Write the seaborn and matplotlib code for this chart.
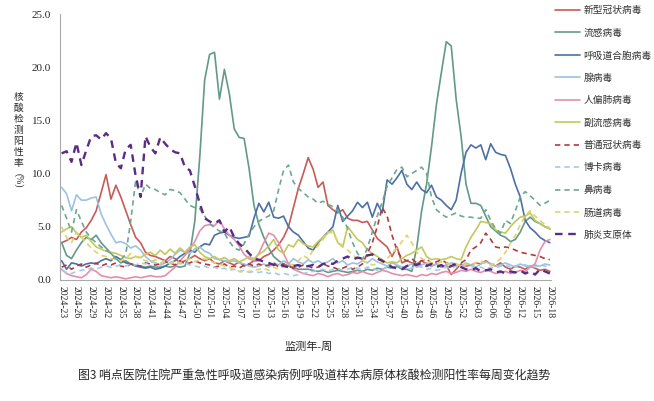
import numpy as np
import pandas as pd
import seaborn as sns
import matplotlib.pyplot as plt

sns.set_style('white')
plt.rcParams['font.family'] = ['Liberation Serif', 'Noto Sans CJK SC']
plt.rcParams['axes.unicode_minus'] = False

# 监测周 (2024-23 ~ 2026-18)
weeks = ([f'2024-{w:02d}' for w in range(23, 53)] +
         [f'2025-{w:02d}' for w in range(1, 53)] +
         [f'2026-{w:02d}' for w in range(1, 19)])

names = ['新型冠状病毒', '流感病毒', '呼吸道合胞病毒', '腺病毒', '人偏肺病毒', '副流感病毒',
         '普通冠状病毒', '博卡病毒', '鼻病毒', '肠道病毒', '肺炎支原体']

covid = [3.5, 3.7, 4.0, 3.8, 4.5, 4.9, 5.6, 6.5, 8.2, 9.9,
         7.6, 8.9, 7.8, 6.5, 5.2, 4.0, 3.5, 2.6, 2.3, 2.2,
         2.0, 1.8, 2.2, 2.0, 1.6, 1.8, 2.0, 2.3, 2.0, 1.8,
         2.0, 1.6, 1.5, 1.8, 1.6, 1.4, 1.7, 1.3, 1.5, 1.8,
         1.8, 2.2, 2.4, 2.8, 3.3, 4.0, 5.0, 6.8, 8.6, 10.0,
         11.5, 10.4, 8.7, 9.2, 7.0, 6.6, 6.3, 6.6, 5.8, 5.6,
         5.6, 5.4, 5.5, 4.7, 3.9, 3.5, 3.1, 2.2, 3.1, 1.6,
         1.8, 1.6, 1.5, 1.8, 1.5, 1.3, 1.5, 1.2, 1.4, 0.5,
         1.0, 1.5, 1.3, 1.4, 1.6, 1.5, 1.8, 1.5, 1.3, 1.6,
         1.2, 1.0, 1.3, 1.2, 1.0, 1.3, 1.1, 0.9, 1.0, 0.8]

flu = [3.5, 2.3, 2.0, 2.8, 3.5, 4.0, 3.8, 4.2, 3.5, 3.0,
       2.5, 2.0, 1.6, 1.8, 1.5, 1.4, 1.3, 1.2, 1.3, 1.2,
       1.2, 1.3, 1.2, 1.3, 1.2, 1.3, 2.5, 5.5, 11.5, 18.8,
       21.2, 21.4, 17.0, 19.8, 17.5, 14.2, 13.4, 13.3, 10.5, 7.0,
       5.2, 4.0, 3.0, 2.2, 1.8, 1.5, 1.3, 1.2, 1.0, 1.0,
       1.0, 0.9, 0.8, 0.9, 0.7, 0.8, 0.9, 0.8, 0.7, 0.8,
       0.9, 0.8, 1.0, 0.9, 1.1, 1.0, 1.2, 1.1, 1.3, 1.0,
       1.0, 0.8, 3.0, 6.5, 9.0, 12.5, 16.5, 19.5, 22.4, 22.0,
       17.0, 13.5, 9.0, 7.2, 7.2, 7.0, 6.0, 5.0, 4.6, 4.2,
       4.0, 3.6, 3.8, 4.5, 5.5, 5.9, 5.5, 5.3, 5.0, 4.8]

rsv = [1.8, 1.0, 1.6, 1.5, 1.3, 1.5, 1.6, 1.5, 1.8, 2.0,
       1.8, 2.2, 1.9, 1.6, 1.5, 1.3, 1.2, 1.1, 1.2, 1.0,
       1.1, 1.3, 1.6, 1.8, 2.2, 2.5, 2.8, 2.6, 3.1, 3.4,
       3.3, 4.2, 4.4, 4.5, 4.2, 4.0, 3.9, 4.0, 4.1, 5.8,
       7.2, 6.4, 7.3, 5.9, 5.8, 6.0, 5.0, 4.5, 4.2, 3.6,
       3.0, 2.8, 3.5, 4.0, 4.5, 5.0, 7.0, 5.5, 6.0, 6.5,
       7.3, 6.8, 7.3, 5.9, 7.2, 6.3, 9.4, 9.0, 9.6, 10.3,
       9.0, 8.5, 9.2, 8.5, 8.2, 8.9, 7.8, 7.5, 7.0, 6.6,
       7.5, 10.0, 12.0, 12.7, 12.4, 12.7, 11.3, 12.8, 12.0, 11.8,
       11.7, 10.5, 9.0, 7.8, 5.6, 4.9, 4.5, 4.0, 3.7, 3.5]

adeno = [8.7, 8.1, 6.5, 8.0, 7.5, 7.5, 7.7, 7.8, 6.2, 5.2,
         4.3, 3.5, 3.6, 3.4, 3.0, 3.2, 2.8, 2.2, 1.8, 1.6,
         1.4, 1.6, 1.9, 2.4, 2.8, 2.6, 2.5, 2.9, 3.1, 2.7,
         2.5, 2.0, 1.9, 1.8, 1.7, 1.8, 1.6, 1.5, 1.3, 1.2,
         1.3, 1.5, 1.2, 1.6, 1.4, 1.8, 1.5, 2.0, 1.7, 1.5,
         1.9, 1.6, 1.8, 1.5, 1.7, 2.0, 1.6, 1.8, 1.4, 1.6,
         1.5, 1.8, 1.6, 2.0, 1.7, 1.5, 1.3, 1.6, 1.4, 1.2,
         1.3, 1.5, 1.2, 1.4, 1.6, 1.3, 1.5, 1.2, 1.4, 1.6,
         1.5, 1.3, 1.6, 1.4, 1.2, 1.5, 1.7, 1.5, 1.3, 1.4,
         1.6, 1.4, 1.2, 1.5, 1.3, 1.2, 1.4, 1.3, 1.5, 1.4]

hmpv = [1.0, 0.6, 0.4, 0.3, 0.2, 0.5, 1.0, 0.8, 0.4, 0.3,
        0.2, 0.3, 0.2, 0.1, 0.2, 0.3, 0.2, 0.3, 0.4, 0.3,
        0.3, 0.4, 0.8, 1.2, 1.8, 2.3, 2.9, 3.6, 4.6, 5.1,
        5.2, 5.1, 5.6, 4.8, 4.2, 3.8, 3.2, 2.4, 2.0, 1.8,
        2.5, 3.5, 4.4, 4.2, 3.5, 2.5, 1.5, 1.0, 0.8, 0.6,
        0.5, 0.4, 0.6, 0.5, 0.3, 0.5, 0.6, 0.4, 0.5, 0.7,
        0.6, 0.8, 0.6, 0.5, 0.7, 0.9, 0.8, 0.6, 0.5, 0.4,
        0.5, 0.4, 0.3, 0.5, 0.4, 0.6, 0.5, 0.7, 0.8, 0.6,
        0.7, 0.9, 0.8, 1.0, 0.8, 0.7, 0.9, 0.8, 0.6, 0.7,
        0.8, 0.6, 0.7, 0.9, 0.8, 1.2, 1.5, 2.8, 3.6, 3.8]

para = [4.5, 4.8, 5.0, 4.4, 4.0, 4.2, 3.6, 3.1, 2.9, 2.7,
        2.6, 2.5, 2.3, 2.1, 2.0, 2.2, 2.1, 2.4, 2.6, 2.3,
        2.8, 2.4, 2.9, 2.5, 3.0, 2.6, 3.1, 3.3, 2.6, 2.2,
        2.0, 2.2, 1.9, 2.1, 1.8, 2.0, 1.7, 1.9, 2.2, 2.0,
        2.4, 2.7, 3.2, 3.8, 2.8, 2.5, 3.3, 3.1, 3.8, 3.4,
        3.2, 3.1, 3.6, 4.0, 4.4, 4.7, 3.5, 3.1, 5.0, 4.4,
        3.8, 3.5, 2.8, 2.5, 2.2, 1.9, 1.6, 1.7, 1.6, 2.0,
        2.3, 2.5, 2.8, 3.1, 2.2, 1.9, 2.0, 1.9, 2.0, 2.2,
        2.0, 1.9, 3.1, 4.0, 4.7, 5.5, 5.4, 5.3, 4.7, 4.5,
        4.4, 5.0, 5.5, 5.9, 6.0, 6.3, 5.6, 5.3, 5.0, 4.8]

hcov = [1.2, 1.4, 1.0, 1.3, 1.5, 1.2, 1.4, 1.6, 1.3, 1.5,
        1.4, 1.6, 1.3, 1.2, 1.5, 1.4, 1.3, 1.6, 1.5, 1.4,
        1.5, 1.7, 1.6, 1.4, 1.8, 1.5, 1.6, 1.8, 1.6, 1.5,
        1.4, 1.2, 1.3, 1.5, 1.2, 1.3, 1.1, 1.4, 1.5, 1.3,
        1.5, 1.3, 1.4, 1.6, 1.2, 1.5, 1.3, 1.1, 1.2, 1.4,
        1.3, 1.1, 1.2, 1.5, 1.3, 1.2, 1.0, 1.1, 1.3, 1.0,
        1.2, 1.5, 2.5, 3.5, 5.0, 6.8, 6.0, 4.2, 2.8, 2.0,
        1.8, 2.0, 1.6, 1.8, 2.0, 1.5, 1.7, 1.9, 1.6, 1.5,
        1.4, 1.6, 1.9, 2.8, 3.1, 3.5, 4.4, 3.8, 3.1, 3.0,
        3.1, 3.0, 2.8, 2.6, 2.5, 2.4, 2.3, 2.2, 2.0, 1.9]

boca = [0.9, 0.7, 0.6, 0.8, 0.9, 1.0, 1.1, 1.0, 1.2, 1.3,
        1.2, 1.3, 1.4, 1.3, 1.5, 1.4, 1.6, 1.5, 1.7, 1.6,
        1.5, 1.7, 1.6, 1.8, 1.5, 1.6, 1.4, 1.3, 1.2, 1.3,
        1.1, 1.2, 1.0, 1.1, 0.9, 1.0, 0.8, 0.9, 0.7, 0.8,
        0.7, 0.8, 0.6, 0.7, 0.5, 0.6, 0.5, 0.4, 0.5, 0.6,
        0.7, 0.8, 0.9, 1.0, 0.8, 1.0, 1.1, 0.9, 1.0, 1.2,
        1.1, 1.0, 1.2, 1.1, 0.9, 1.0, 1.2, 1.1, 1.3, 1.2,
        1.0, 1.1, 1.3, 1.2, 1.0, 1.1, 0.9, 1.0, 1.2, 1.1,
        1.3, 1.2, 1.4, 1.3, 1.1, 1.2, 1.0, 1.2, 1.1, 1.3,
        1.4, 1.2, 1.3, 1.5, 1.4, 1.3, 1.2, 1.4, 1.3, 1.2]

rhino = [7.0, 5.8, 4.5, 6.6, 5.5, 4.5, 3.9, 3.5, 3.1, 2.8,
         2.5, 2.0, 1.9, 2.4, 5.5, 9.3, 7.8, 9.0, 8.6, 8.5,
         8.2, 8.0, 8.5, 8.4, 8.2, 7.6, 7.0, 6.8, 6.7, 6.0,
         5.3, 4.9, 4.6, 4.4, 3.6, 3.0, 2.8, 3.4, 4.3, 5.0,
         5.5, 5.8, 6.0, 6.5, 8.5, 10.3, 10.8, 9.2, 8.6, 8.2,
         7.8, 7.6, 7.2, 7.4, 7.1, 6.9, 6.5, 5.9, 4.8, 3.5,
         2.5, 1.9, 3.0, 4.5, 6.0, 7.3, 8.8, 9.6, 10.4, 10.6,
         9.7, 10.0, 10.3, 10.6, 10.0, 7.8, 6.6, 6.2, 5.9, 6.1,
         6.3, 6.0, 5.9, 5.9, 5.8, 5.8, 6.6, 5.6, 4.8, 4.4,
         5.6, 5.3, 6.5, 7.8, 8.3, 7.9, 7.5, 7.0, 7.2, 7.5]

entero = [5.0, 4.0, 3.5, 4.5, 4.0, 3.5, 3.0, 2.6, 2.3, 2.2,
          2.0, 1.9, 1.8, 2.0, 2.5, 2.2, 2.0, 1.8, 1.7, 1.9,
          1.6, 1.8, 1.5, 1.7, 1.6, 1.8, 2.0, 1.7, 1.9, 2.0,
          1.8, 1.6, 1.5, 1.3, 1.2, 1.0, 0.8, 0.7, 0.8, 0.9,
          1.0, 1.1, 0.9, 1.2, 1.0, 1.3, 1.5, 1.4, 1.8, 2.3,
          2.0, 2.8, 3.2, 3.8, 4.5, 4.4, 3.6, 3.2, 2.8, 2.4,
          2.0, 1.8, 1.6, 1.4, 1.5, 1.7, 2.0, 2.5, 3.0, 3.6,
          4.2, 3.5, 2.6, 2.0, 1.8, 1.6, 1.5, 1.7, 1.6, 1.4,
          1.5, 1.3, 1.5, 1.4, 1.6, 1.8, 1.5, 1.4, 1.6, 2.0,
          2.6, 3.4, 4.2, 5.2, 6.0, 6.5, 6.0, 5.6, 5.2, 4.9]

myco = [11.9, 12.1, 11.1, 12.9, 10.8, 12.2, 13.5, 13.6, 13.2, 13.8,
        13.3, 11.0, 10.5, 12.3, 12.7, 9.8, 7.8, 13.5, 12.5, 11.9,
        13.4, 12.8, 12.3, 12.0, 11.9, 10.6, 10.3, 8.8, 7.2, 5.8,
        5.5, 5.3, 5.6, 4.5, 5.0, 4.0, 3.4, 3.0, 2.5, 2.0,
        1.9, 1.7, 1.6, 1.4, 1.5, 1.3, 1.2, 1.3, 1.4, 1.2,
        1.3, 1.4, 1.2, 1.5, 1.6, 1.5, 1.8, 2.0, 2.2, 1.9,
        2.1, 2.0, 2.3, 2.4, 2.0, 1.8, 1.5, 1.2, 1.1, 1.0,
        1.3, 1.5, 1.4, 1.6, 1.3, 1.5, 1.2, 1.4, 1.1, 1.3,
        1.5, 1.2, 1.0, 0.9, 1.1, 0.8, 0.9, 1.0, 0.7, 0.8,
        0.6, 0.8, 0.7, 0.9, 0.6, 0.8, 0.5, 1.0, 0.8, 0.6]

series = [covid, flu, rsv, adeno, hmpv, para, hcov, boca, rhino, entero, myco]
colors = ['#C85A57', '#62998A', '#4D6FA3', '#9CC2DF', '#E28FAE', '#C3C95C',
          '#B23B3B', '#A6CBE6', '#6EA88E', '#E0D36E', '#5A2C85']
dashed = [False] * 6 + [True] * 5

fig = plt.figure(figsize=(6.54, 4.01), dpi=100)
ax = fig.add_axes([0.092, 0.302, 0.751, 0.663])

x = np.arange(len(weeks))
for name, vals, c, d in zip(names, series, colors, dashed):
    lw = 1.7 if name == '肺炎支原体' else 1.2
    sns.lineplot(x=x, y=vals, ax=ax, color=c, linewidth=lw, label=name)
    if d:
        ax.lines[-1].set_dashes((3.2, 2.4))

ax.set_xlim(-0.3, len(weeks) - 0.7)
ax.set_ylim(0, 25)
ax.set_yticks(np.arange(0, 25.1, 5))
ax.set_yticklabels([f'{v:.1f}' for v in np.arange(0, 25.1, 5)], fontsize=8)
ax.set_xticks(x[::3])
ax.set_xticklabels(weeks[::3], rotation=270, fontsize=7)
ax.set_xticks(x, minor=True)
ax.tick_params(axis='x', which='both', direction='out', length=2.5, width=0.8,
               color='#333333', pad=2)
ax.tick_params(axis='y', direction='out', length=3, width=0.8, color='#999999')
for s in ['top', 'right']:
    ax.spines[s].set_visible(False)
for s in ['left', 'bottom']:
    ax.spines[s].set_color('#aaaaaa')
    ax.spines[s].set_linewidth(0.8)

# 纵轴标题: 竖排汉字
ylab = '核酸检测阳性率'
for i, ch in enumerate(ylab):
    fig.text(0.028, 0.757 - i * 0.0275, ch, fontsize=7, ha='center', va='center')
fig.text(0.028, 0.55, '(%)', fontsize=7, ha='center', va='center', rotation=270)
fig.text(0.472, 0.135, '监测年-周', fontsize=8, ha='center', va='center')
fig.text(0.48, 0.065, '图3 哨点医院住院严重急性呼吸道感染病例呼吸道样本病原体核酸检测阳性率每周变化趋势',
         fontsize=8.6, ha='center', va='center', family=['Noto Sans CJK SC'])

leg = ax.legend(loc='upper left', bbox_to_anchor=(0.843, 0.995), bbox_transform=fig.transFigure,
                frameon=False, fontsize=7, handlelength=2.6, labelspacing=1.35,
                handletextpad=0.3, borderaxespad=0)
for t in leg.get_texts():
    t.set_color('#333333')

fig.savefig('out.png', dpi=100)
